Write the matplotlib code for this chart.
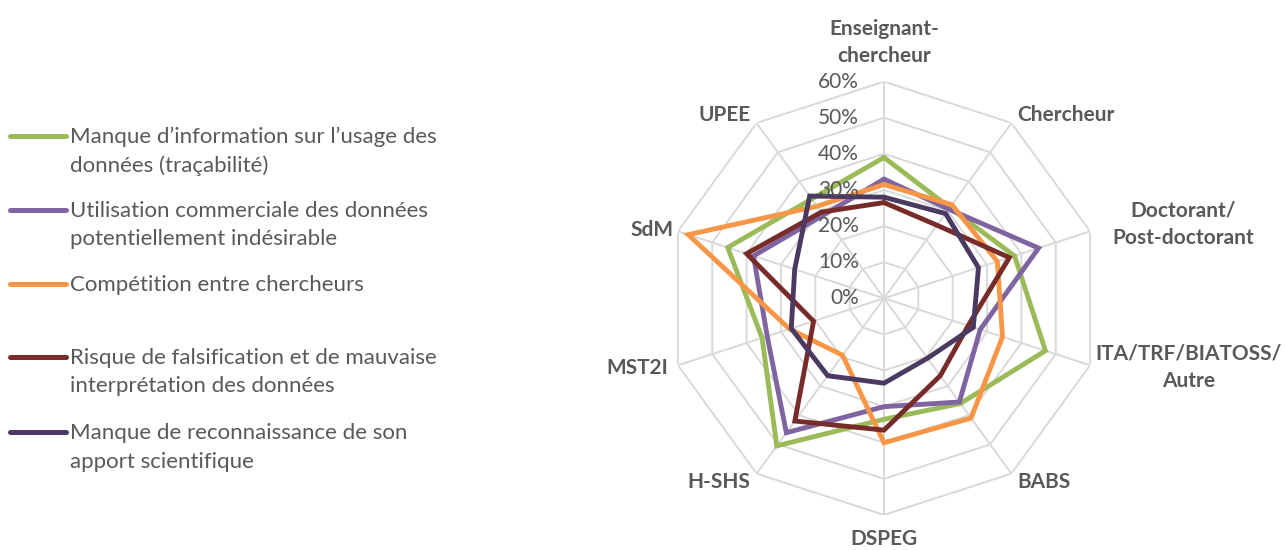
import numpy as np
import matplotlib
matplotlib.use('Agg')
import matplotlib.pyplot as plt
from matplotlib.lines import Line2D
from matplotlib.transforms import offset_copy

plt.rcParams['font.family'] = ['Lato', 'DejaVu Sans']

# Categories (clockwise from the top)
categories = ['Enseignant-\nchercheur', 'Chercheur', 'Doctorant/\nPost-doctorant',
              'ITA/TRF/BIATOSS/\nAutre', 'BABS', 'DSPEG', 'H-SHS', 'MST2I', 'SdM', 'UPEE']

# Values (fractions)
info_usage = [0.39, 0.31, 0.38, 0.47, 0.36, 0.335, 0.505, 0.355, 0.455, 0.34]
commercial = [0.33, 0.305, 0.45, 0.28, 0.355, 0.30, 0.46, 0.34, 0.38, 0.285]
competition = [0.315, 0.32, 0.33, 0.345, 0.41, 0.40, 0.195, 0.275, 0.57, 0.315]
falsification = [0.265, 0.25, 0.365, 0.245, 0.265, 0.365, 0.42, 0.205, 0.40, 0.295]
reconnaissance = [0.28, 0.29, 0.275, 0.26, 0.205, 0.235, 0.265, 0.27, 0.26, 0.35]

series_labels = [
    "Manque d\u2019information sur l\u2019usage des\ndonn\u00e9es (tra\u00e7abilit\u00e9)",
    "Utilisation commerciale des donn\u00e9es\npotentiellement ind\u00e9sirable",
    "Comp\u00e9tition entre chercheurs",
    "Risque de falsification et de mauvaise\ninterpr\u00e9tation des donn\u00e9es",
    "Manque de reconnaissance de son\napport scientifique",
]
series_colors = ['#9BBB59', '#8064A2', '#F79646', '#772C2A', '#4A3960']
tick_values = [0.0, 0.1, 0.2, 0.3, 0.4, 0.5, 0.6]
tick_labels = ['0%', '10%', '20%', '30%', '40%', '50%', '60%']

text_color = '#595959'
grid_color = '#D9D9D9'

fig = plt.figure(figsize=(12.85, 5.5), dpi=100)
W, H = 1285, 550
cx, cy, R = 884, 298.3, 216.7
ax = fig.add_axes([(cx - R) / W, (H - cy - R) / H, 2 * R / W, 2 * R / H], projection='polar')
ax.set_theta_zero_location('N')
ax.set_theta_direction(-1)
ax.set_ylim(0, 0.6)
ax.set_xticks([])
ax.set_yticks([])
ax.grid(False)
ax.spines['polar'].set_visible(False)
ax.patch.set_visible(False)

n = len(categories)
angles = np.arange(n) * 2 * np.pi / n
closed = np.append(angles, angles[0])

# polygon grid + spokes
for v in tick_values[1:]:
    ax.plot(closed, [v] * (n + 1), color=grid_color, lw=1.4, zorder=1)
for a in angles:
    ax.plot([a, a], [0, tick_values[-1]], color=grid_color, lw=1.4, zorder=1)

# series
all_series = [info_usage, commercial, competition, falsification, reconnaissance]
for vals, col in zip(all_series, series_colors):
    ax.plot(closed, vals + vals[:1], color=col, lw=3.5, zorder=3,
            solid_joinstyle='miter', solid_capstyle='round')

# radial tick labels
tr = offset_copy(ax.transData, fig=fig, x=-25, y=0, units='dots')
for v, lab in zip(tick_values, tick_labels):
    ax.text(0, v, lab, transform=tr, ha='right', va='center', fontsize=15,
            color=text_color, zorder=4)

# category labels
label_r = {0: 0.642, 2: 0.665, 3: 0.615, 5: 0.64, 8: 0.613}
for i, (a, lab) in enumerate(zip(angles, categories)):
    deg = np.degrees(a)
    if i == 0:
        ha, va = 'center', 'bottom'
    elif i == 5:
        ha, va = 'center', 'top'
    elif deg < 180:
        ha, va = 'left', 'center'
    else:
        ha, va = 'right', 'center'
    r = label_r.get(i, 0.628)
    ax.text(a, r, lab, ha=ha, va=va, multialignment='center', fontsize=15,
            fontweight='bold', color=text_color, linespacing=1.45, clip_on=False)

# legend (drawn by hand: handle beside first line of each label)
leg_y = [136, 210, 284, 357, 432]
for y, lab, col in zip(leg_y, series_labels, series_colors):
    fig.add_artist(Line2D([10 / W, 66 / W], [1 - y / H, 1 - y / H], color=col, lw=3.6,
                          solid_capstyle='round', transform=fig.transFigure))
    for k, line in enumerate(lab.split('\n')):
        fig.text(70 / W, 1 - (y + 7 + 28.5 * k) / H, line, ha='left', va='baseline',
                 fontsize=16, color=text_color)

fig.savefig('out.png', dpi=100)
